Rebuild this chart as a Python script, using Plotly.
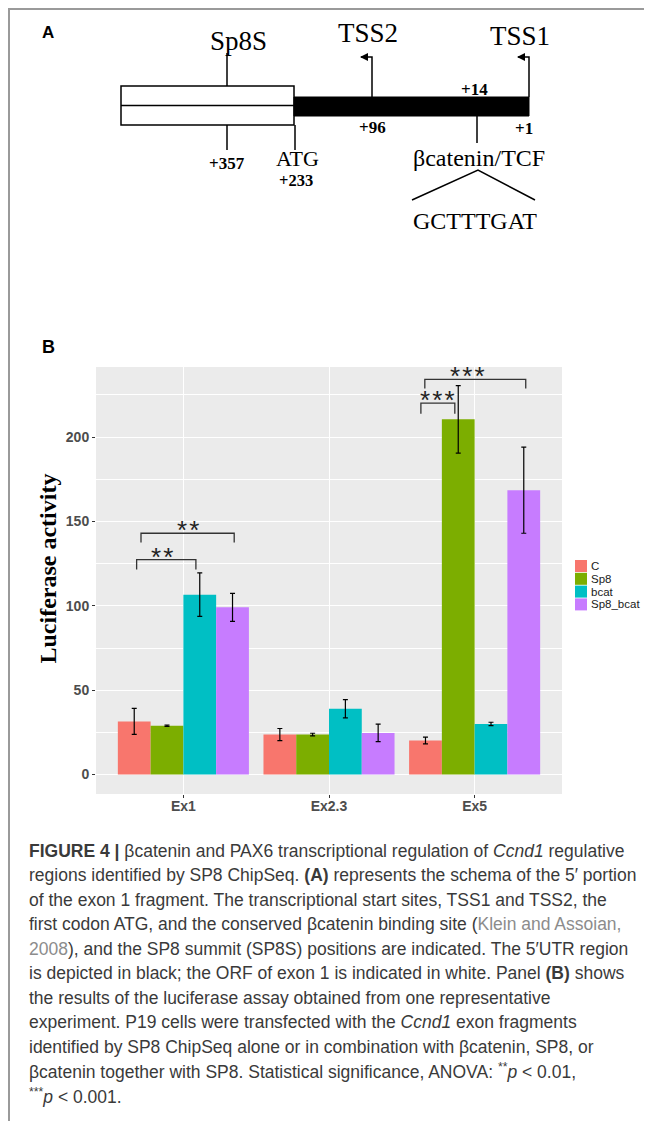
import plotly.graph_objects as go

# browser body margin offset (page is drawn 8px in from the window edges)
OX, OY = 8, 8
WF, HF = 644, 1113

# ---------------- Panel B data ----------------
categories = ["Ex1", "Ex2.3", "Ex5"]
series = ["C", "Sp8", "bcat", "Sp8_bcat"]
colors = ["#F8766D", "#7CAE00", "#00BFC4", "#C77CFF"]
values_C = [31.5, 23.7, 20.2]
values_Sp8 = [28.9, 23.7, 210.5]
values_bcat = [106.6, 39.0, 30.0]
values_Sp8_bcat = [99.1, 24.7, 168.5]
err_C = [7.7, 3.6, 2.0]
err_Sp8 = [0.4, 0.8, 20.0]
err_bcat = [12.9, 5.4, 1.0]
err_Sp8_bcat = [8.3, 5.2, 25.5]
y_ticks = [0, 50, 100, 150, 200]
y_minor = [25, 75, 125, 175, 225]

# significance brackets (x in category units, 0-based)
sig_x0 = [-0.321, -0.291, 1.631, 1.658]
sig_x1 = [0.086, 0.349, 1.864, 2.351]
sig_y = [127.4, 143.0, 220.1, 234.2]
sig_tip = [5.9, 5.5, 6.3, 5.5]
sig_text_x = [-0.145, 0.031, 1.746, 1.950]
sig_labels = ["**", "**", "***", "***"]

# ---------------- Panel A schema data (drawing units = px) ----------------
orf_span = [121, 294]
orf_y = [86, 125]
utr_span = [294, 529]
utr_y = [97, 116]
tss_names = ["TSS2", "TSS1"]
tss_pos = [372, 529]
tss_label_xy = [(368, 33), (520, 36)]
top_num_labels = ["+14"]
top_num_xy = [(474, 89)]
below_num_labels = ["+96", "+1"]
below_num_xy = [(372, 127), (524, 128)]
sp8s_pos = 227
site_pos = 477
bottom_ticks = [227, 295]
motif_name = "βcatenin/TCF"
motif_seq = "GCTTTGAT"

caption_lines = [
    "<b>FIGURE 4 |</b> βcatenin and PAX6 transcriptional regulation of <i>Ccnd1</i> regulative",
    "regions identified by SP8 ChipSeq. <b>(A)</b> represents the schema of the 5′ portion",
    "of the exon 1 fragment. The transcriptional start sites, TSS1 and TSS2, the",
    "first codon ATG, and the conserved βcatenin binding site (<span style='color:#8c8c8c'>Klein and Assoian,</span>",
    "<span style='color:#8c8c8c'>2008</span>), and the SP8 summit (SP8S) positions are indicated. The 5′UTR region",
    "is depicted in black; the ORF of exon 1 is indicated in white. Panel <b>(B)</b> shows",
    "the results of the luciferase assay obtained from one representative",
    "experiment. P19 cells were transfected with the <i>Ccnd1</i> exon fragments",
    "identified by SP8 ChipSeq alone or in combination with βcatenin, SP8, or",
    "βcatenin together with SP8. Statistical significance, ANOVA: <sup>**</sup><i>p</i> &lt; 0.01,",
    "<sup>***</sup><i>p</i> &lt; 0.001.",
]


def fx(x):
    return (x - OX) / WF


def fy(y):
    return 1 - (y - OY) / HF


values = [values_C, values_Sp8, values_bcat, values_Sp8_bcat]
errors = [err_C, err_Sp8, err_bcat, err_Sp8_bcat]
xpos = list(range(len(categories)))

serif = "Liberation Serif, Times New Roman, serif"
sans = "Liberation Sans, Arial, sans-serif"

fig = go.Figure()

for name, col, v, e in zip(series, colors, values, errors):
    fig.add_trace(go.Bar(
        x=xpos, y=v, name=name, marker=dict(color=col, line=dict(width=0)),
        error_y=dict(type="data", array=e, color="black", thickness=1.2, width=2.5),
        showlegend=False, xaxis="x", yaxis="y",
    ))

# brackets
bx, by = [], []
for x0, x1, y, t in zip(sig_x0, sig_x1, sig_y, sig_tip):
    bx += [x0, x0, x1, x1, None]
    by += [y - t, y, y, y - t, None]
fig.add_trace(go.Scatter(x=bx, y=by, mode="lines", line=dict(color="#333333", width=1.3),
                         showlegend=False, hoverinfo="skip", xaxis="x", yaxis="y"))

annotations = []
for tx, y, lab in zip(sig_text_x, sig_y, sig_labels):
    annotations.append(dict(
        x=tx, y=y, xref="x", yref="y", text="\u200a".join(lab), showarrow=False,
        yanchor="bottom", xanchor="center", yshift=-14,
        font=dict(family=sans, size=26, color="#222222"),
    ))

# ---------------- Panel A drawing (x2/y2 in px units) ----------------
lx, ly = [], []
lx += [orf_span[0], orf_span[1], None]
ly += [(orf_y[0] + orf_y[1]) / 2, (orf_y[0] + orf_y[1]) / 2, None]
lx += [sp8s_pos, sp8s_pos, None]
ly += [53, orf_y[0], None]
for p in tss_pos:
    lx += [p, p, p - 11, None]
    ly += [utr_y[0], 57, 57, None]
for p in bottom_ticks:
    lx += [p, p, None]
    ly += [orf_y[1], 150, None]
lx += [site_pos, site_pos, None]
ly += [utr_y[1], 143, None]
lx += [412, site_pos + 1, 535, None]
ly += [200, 170, 200, None]
fig.add_trace(go.Scatter(x=lx, y=ly, mode="lines", line=dict(color="black", width=1.5),
                         showlegend=False, hoverinfo="skip", xaxis="x2", yaxis="y2"))
# TSS arrowheads
fig.add_trace(go.Scatter(x=[p - 12 for p in tss_pos], y=[57] * len(tss_pos), mode="markers",
                         marker=dict(symbol="arrow-left", size=8, color="black", line=dict(width=0)),
                         showlegend=False, hoverinfo="skip", xaxis="x2", yaxis="y2"))

shapes = []
shapes.append(dict(type="rect", xref="paper", yref="paper", x0=fx(9), x1=fx(645), y0=fy(1140), y1=fy(9),
                   line=dict(color="#9a9a9a", width=2), fillcolor="rgba(0,0,0,0)", layer="above"))
shapes.append(dict(type="rect", xref="x domain", yref="y domain", x0=0, x1=1, y0=0, y1=1,
                   fillcolor="#EBEBEB", line=dict(width=0), layer="below"))
shapes.append(dict(type="rect", xref="x2", yref="y2", x0=orf_span[0], x1=orf_span[1], y0=orf_y[0], y1=orf_y[1],
                   fillcolor="white", line=dict(color="black", width=1.5), layer="below"))
shapes.append(dict(type="rect", xref="x2", yref="y2", x0=utr_span[0], x1=utr_span[1], y0=utr_y[0], y1=utr_y[1],
                   fillcolor="black", line=dict(color="black", width=1), layer="below"))


def label(x, y, text, size, family=serif, **kw):
    d = dict(x=x, y=y, xref="x2", yref="y2", text=text, showarrow=False, xanchor="center",
             yanchor="middle", font=dict(family=family, size=size, color="black"))
    d.update(kw)
    annotations.append(d)


for name, (x, y) in zip(tss_names, tss_label_xy):
    label(x, y, name, 27)
label(238, 41, "Sp8S", 27)
for lab, (x, y) in zip(top_num_labels + below_num_labels, top_num_xy + below_num_xy):
    label(x, y, "<b>%s</b>" % lab, 17)
label(227, 163, "<b>+357</b>", 17)
label(297, 158.5, "ATG", 22)
label(296, 180, "<b>+233</b>", 16.5)
label(479, 158, motif_name, 24)
label(475, 221, motif_seq, 24)

annotations.append(dict(x=fx(40), y=fy(33), xref="paper", yref="paper", text="<b>A</b>", showarrow=False,
                        xanchor="left", yanchor="middle", font=dict(family=sans, size=17, color="black")))
annotations.append(dict(x=fx(40), y=fy(347), xref="paper", yref="paper", text="<b>B</b>", showarrow=False,
                        xanchor="left", yanchor="middle", font=dict(family=sans, size=18, color="black")))

annotations.append(dict(x=fx(47.5), y=fy(569), xref="paper", yref="paper", text="<b>Luciferase activity</b>",
                        textangle=-90, showarrow=False, xanchor="center", yanchor="middle",
                        font=dict(family=serif, size=24, color="black")))

leg_x, leg_y, key_w, key_h, step = 575, 560, 12, 12, 12.8
for i, (name, col) in enumerate(zip(series, colors)):
    y0 = leg_y + i * step
    shapes.append(dict(type="rect", xref="paper", yref="paper", x0=fx(leg_x), x1=fx(leg_x + key_w),
                       y0=fy(y0 + key_h), y1=fy(y0), fillcolor=col, line=dict(width=0)))
    annotations.append(dict(x=fx(leg_x + key_w + 1.5), y=fy(y0 + key_h / 2), xref="paper", yref="paper",
                            text=name, showarrow=False, xanchor="left", yanchor="middle",
                            font=dict(family=sans, size=11.5, color="#1a1a1a")))

cap_y0, cap_step = 851, 24.45
for i, line in enumerate(caption_lines):
    annotations.append(dict(x=fx(27), y=fy(cap_y0 + i * cap_step), xref="paper", yref="paper", text=line,
                            showarrow=False, xanchor="left", yanchor="middle", align="left",
                            font=dict(family=sans, size=17.5, color="#3a3a3a")))

fig.update_layout(
    width=WF, height=HF, margin=dict(l=0, r=0, t=0, b=0),
    paper_bgcolor="white", plot_bgcolor="rgba(0,0,0,0)",
    barmode="group", bargap=0.1, bargroupgap=0,
    shapes=shapes, annotations=annotations,
    xaxis=dict(domain=[fx(96), fx(562)], range=[-0.6, 2.6], tickvals=xpos, ticktext=categories,
               showgrid=True, gridcolor="white", gridwidth=1.1, zeroline=False, showline=False,
               ticks="outside", ticklen=3, tickcolor="#333333", tickwidth=1, ticklabelstandoff=-4,
               tickfont=dict(family=sans, size=14, color="#4D4D4D", weight="bold"), anchor="y",
               fixedrange=True),
    yaxis=dict(domain=[fy(794), fy(367)], range=[-11.5, 241.5], tickvals=y_ticks,
               showgrid=True, gridcolor="white", gridwidth=1.1, zeroline=False, showline=False,
               minor=dict(tickvals=y_minor, showgrid=True, gridcolor="white", gridwidth=0.5, ticks=""),
               ticks="outside", ticklen=3, tickcolor="#333333", tickwidth=1,
               tickfont=dict(family=sans, size=14, color="#4D4D4D", weight="bold"), anchor="x",
               fixedrange=True),
    xaxis2=dict(domain=[0, 1], range=[OX, OX + WF], visible=False, anchor="y2", fixedrange=True),
    yaxis2=dict(domain=[fy(250), 1], range=[250, OY], visible=False, anchor="x2", fixedrange=True),
)

fig.write_html("out.html")
